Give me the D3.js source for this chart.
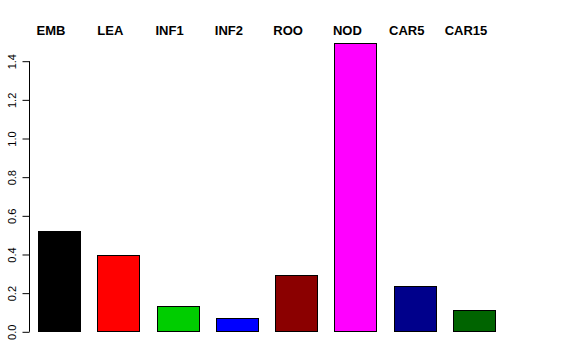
<!DOCTYPE html>
<html>
<head>
<meta charset="utf-8">
<script src="https://cdn.jsdelivr.net/npm/d3@7"></script>
<style>
  body { margin: 0; background: #fff; }
  svg { display: block; font-family: "Liberation Sans", Arial, sans-serif; }
</style>
</head>
<body>
<div id="chart"></div>
<script>
const categories = ["EMB", "LEA", "INF1", "INF2", "ROO", "NOD", "CAR5", "CAR15"];
const values = [0.52, 0.393, 0.129, 0.067, 0.293, 1.493, 0.233, 0.110];
const colors = ["#000000", "#FF0000", "#00CD00", "#0000FF", "#8B0000", "#FF00FF", "#00008B", "#006400"];
const yTicks = [0, 0.2, 0.4, 0.6, 0.8, 1.0, 1.2, 1.4];

const width = 576, height = 360;

const svg = d3.select("#chart").append("svg")
    .attr("width", width)
    .attr("height", height);

// bar positions: step ~59.3px, bar width ~42px
const x = d3.scaleBand()
    .domain(categories)
    .range([38, 495])
    .paddingInner(0.292)
    .paddingOuter(0);

const y = d3.scaleLinear()
    .domain([0, 1.4])
    .range([331.3, 60.7]);

// bars
svg.append("g")
  .selectAll("rect")
  .data(categories)
  .join("rect")
    .attr("x", d => Math.round(x(d)) + 0.5)
    .attr("y", (d, i) => Math.round(y(values[i])) + 0.5)
    .attr("width", Math.round(x.bandwidth()))
    .attr("height", (d, i) => Math.round(y(0)) - Math.round(y(values[i])))
    .attr("fill", (d, i) => colors[i])
    .attr("stroke", "#000")
    .attr("stroke-width", 1);

// y axis, R style with rotated labels
const yAxis = d3.axisLeft(y)
    .tickValues(yTicks)
    .tickSize(7)
    .tickPadding(0)
    .tickFormat(d3.format(".1f"));

const ax = svg.append("g")
    .attr("transform", "translate(29.5,0.5)")
    .call(yAxis);
ax.select(".domain")
    .attr("d", `M0,${y(0)}V${y(1.4)}`)
    .attr("stroke", "#000");
ax.selectAll(".tick line").attr("stroke", "#000");
ax.selectAll(".tick text")
    .attr("x", null)
    .attr("dy", null)
    .attr("font-size", 11)
    .attr("font-family", "'Liberation Sans', Arial, sans-serif")
    .attr("fill", "#000")
    .attr("text-anchor", "middle")
    .attr("transform", "translate(-14,0) rotate(-90)");

// category labels at the top
svg.append("g")
  .selectAll("text")
  .data(categories)
  .join("text")
    .attr("x", d => x(d) + x.bandwidth() / 2 - 8)
    .attr("y", 35)
    .attr("text-anchor", "middle")
    .attr("font-size", 13)
    .attr("font-weight", "bold")
    .attr("fill", "#000")
    .text(d => d);
</script>
</body>
</html>
